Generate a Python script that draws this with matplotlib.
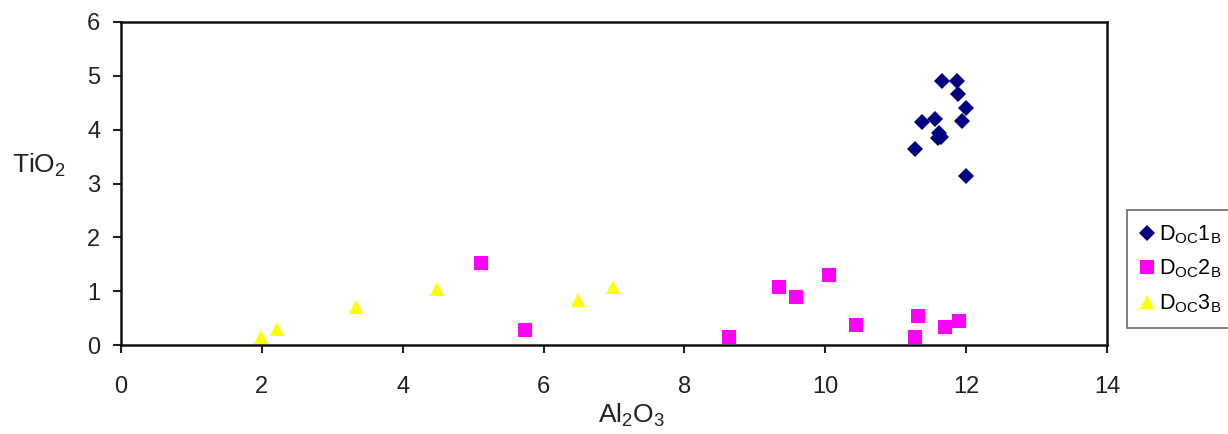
import matplotlib
matplotlib.use("Agg")
import matplotlib.pyplot as plt

plt.rcParams['font.family'] = ['Liberation Sans', 'DejaVu Sans']
plt.rcParams['mathtext.fontset'] = 'custom'
plt.rcParams['mathtext.rm'] = 'Liberation Sans'

doc1_al = [11.66, 11.87, 11.89, 12.00, 11.94, 11.37, 11.56, 11.61, 11.60, 11.64, 11.28, 12.00]
doc1_ti = [4.91, 4.91, 4.67, 4.40, 4.16, 4.15, 4.20, 3.93, 3.84, 3.86, 3.64, 3.14]

doc2_al = [5.11, 5.73, 8.63, 9.34, 9.59, 10.05, 10.44, 11.31, 11.28, 11.70, 11.90]
doc2_ti = [1.52, 0.27, 0.14, 1.08, 0.89, 1.30, 0.37, 0.53, 0.15, 0.33, 0.45]

doc3_al = [1.99, 2.22, 3.33, 4.48, 6.49, 6.99]
doc3_ti = [0.14, 0.29, 0.71, 1.04, 0.84, 1.08]

labels = [r'D$_\mathregular{OC}$1$_\mathregular{B}$',
          r'D$_\mathregular{OC}$2$_\mathregular{B}$',
          r'D$_\mathregular{OC}$3$_\mathregular{B}$']
xticks = [0, 2, 4, 6, 8, 10, 12, 14]
yticks = [0, 1, 2, 3, 4, 5, 6]

fig = plt.figure(figsize=(12.28, 4.34), dpi=100)
ax = fig.add_axes([121/1228, 1-345/434, 986/1228, 323/434])

ax.plot(doc1_al, doc1_ti, linestyle='none', marker='D', ms=8.5, color='#000080',
        markeredgewidth=0, label=labels[0])
ax.plot(doc2_al, doc2_ti, linestyle='none', marker='s', ms=9.5, color='#FF00FF',
        markeredgewidth=0, label=labels[1])
ax.plot(doc3_al, doc3_ti, linestyle='none', marker='^', ms=10, color='#FFFF00',
        markeredgewidth=0, label=labels[2])

ax.set_xlim(0, 14)
ax.set_ylim(0, 6)
ax.set_xticks(xticks)
ax.set_yticks(yticks)
ax.tick_params(direction='out', length=6, width=1.5, labelsize=17, colors='#222222')
ax.tick_params(axis='x', pad=16)
ax.tick_params(axis='y', pad=9)
for sp in ax.spines.values():
    sp.set_linewidth(1.8)
    sp.set_color('#111111')

ax.set_xlabel(r'Al$_\mathregular{2}$O$_\mathregular{3}$', fontsize=19, color='#222222')
ax.xaxis.set_label_coords(0.518, -0.175)
ax.set_ylabel(r'TiO$_\mathregular{2}$', fontsize=19, rotation=0, color='#222222')
ax.yaxis.set_label_coords(-0.083, 0.515)

leg = ax.legend(loc='upper left', bbox_to_anchor=(1127/1228, 1-210/434),
                bbox_transform=fig.transFigure, frameon=True, fancybox=False,
                fontsize=15.5, handlelength=0.6, handletextpad=0.25,
                borderpad=0.62, labelspacing=0.55, borderaxespad=0)
leg.get_frame().set_edgecolor('#444444')
leg.get_frame().set_linewidth(1.2)

fig.savefig('out.png', dpi=100)
